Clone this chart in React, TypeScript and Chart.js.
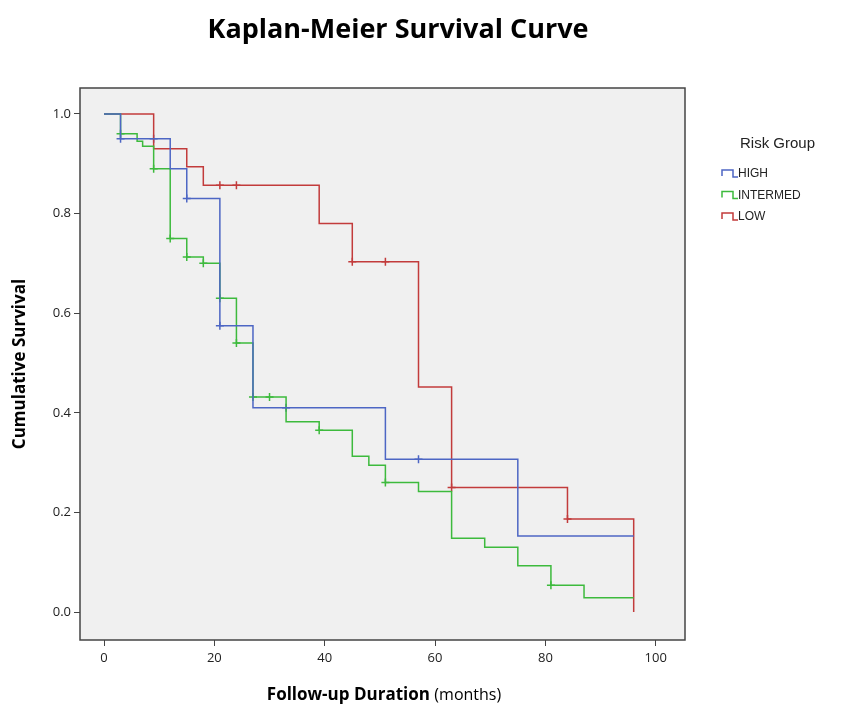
import { useEffect, useRef } from "react"
import { Chart, registerables } from "chart.js"

Chart.register(...registerables)

// Kaplan-Meier steps: time (months) and survival after the event
const highTimes = [0, 3, 12, 15, 21, 27, 51, 75, 96]
const highSurv = [1.0, 0.95, 0.89, 0.83, 0.575, 0.41, 0.307, 0.153, 0.153]
const highCensor = [3, 9, 15, 21, 33, 57]

const intermedTimes = [0, 3, 6, 7, 9, 12, 15, 18, 21, 24, 27, 33, 39, 45, 48, 51, 57, 63, 69, 75, 81, 87, 96]
const intermedSurv = [1.0, 0.96, 0.945, 0.935, 0.89, 0.75, 0.713, 0.7, 0.63, 0.54, 0.432, 0.382, 0.365, 0.313, 0.295, 0.26, 0.242, 0.148, 0.13, 0.093, 0.054, 0.029, 0.029]
const intermedCensor = [3, 9, 12, 15, 18, 21, 24, 27, 30, 39, 51, 81]

const lowTimes = [0, 9, 15, 18, 39, 45, 57, 63, 84, 96, 96]
const lowSurv = [1.0, 0.93, 0.894, 0.857, 0.78, 0.703, 0.452, 0.25, 0.187, 0.187, 0.0]
const lowCensor = [21, 24, 45, 51, 63, 84]

const xTicks = [0, 20, 40, 60, 80, 100]
const yTicks = [0, 0.2, 0.4, 0.6, 0.8, 1.0]

const groups = [
  { label: "HIGH", color: "#4d66c4", times: highTimes, surv: highSurv, censor: highCensor },
  { label: "INTERMED", color: "#3dba3d", times: intermedTimes, surv: intermedSurv, censor: intermedCensor },
  { label: "LOW", color: "#c23b3b", times: lowTimes, surv: lowSurv, censor: lowCensor },
]

function survAt(times: number[], surv: number[], t: number) {
  let s = surv[0]
  for (let i = 0; i < times.length; i++) {
    if (times[i] <= t) s = surv[i]
  }
  return s
}

const FONT = "'Open Sans', Arial, sans-serif"

export default function App() {
  const chartRef = useRef<HTMLCanvasElement>(null)
  const chartInstance = useRef<Chart | null>(null)

  useEffect(() => {
    if (!chartRef.current) return
    const ctx = chartRef.current.getContext("2d")
    if (!ctx) return
    if (chartInstance.current) chartInstance.current.destroy()

    const datasets: any[] = []
    groups.forEach((g) => {
      datasets.push({
        label: g.label,
        data: g.times.map((t, i) => ({ x: t, y: g.surv[i] })),
        borderColor: g.color,
        borderWidth: 1.5,
        stepped: "before",
        pointRadius: 0,
        showLine: true,
      })
    })
    groups.forEach((g) => {
      datasets.push({
        label: g.label + " censored",
        data: g.censor.map((t) => ({ x: t, y: survAt(g.times, g.surv, t) })),
        borderColor: g.color,
        pointStyle: "cross",
        pointRadius: 4,
        pointBorderWidth: 1.5,
        showLine: false,
      })
    })

    const decor = {
      id: "decor",
      beforeDraw(chart: any) {
        const { ctx, chartArea: a } = chart
        ctx.save()
        ctx.fillStyle = "#f0f0f0"
        ctx.fillRect(a.left, a.top, a.right - a.left, a.bottom - a.top)
        ctx.restore()
      },
      afterDraw(chart: any) {
        const { ctx, chartArea: a } = chart
        ctx.save()
        ctx.strokeStyle = "#444"
        ctx.lineWidth = 1.5
        ctx.strokeRect(a.left, a.top, a.right - a.left, a.bottom - a.top)
        // title
        ctx.fillStyle = "#000"
        ctx.textAlign = "center"
        ctx.textBaseline = "middle"
        ctx.font = `bold 27px ${FONT}`
        ctx.fillText("Kaplan-Meier Survival Curve", 398, 30)
        // x title
        const p1 = "Follow-up Duration "
        ctx.font = `bold 17px ${FONT}`
        const w1 = ctx.measureText(p1).width
        ctx.font = `16px ${FONT}`
        const w2 = ctx.measureText("(months)").width
        const sx = 384 - (w1 + w2) / 2
        ctx.textAlign = "left"
        ctx.font = `bold 17px ${FONT}`
        ctx.fillText(p1, sx, 695)
        ctx.font = `16px ${FONT}`
        ctx.fillText("(months)", sx + w1, 695)
        // legend
        ctx.font = `15px Arial, sans-serif`
        ctx.fillStyle = "#222"
        ctx.fillText("Risk Group", 740, 144)
        ctx.font = `12px Arial, sans-serif`
        groups.forEach((g, i) => {
          const y = 174 + i * 21.5
          ctx.strokeStyle = g.color
          ctx.lineWidth = 1.5
          ctx.beginPath()
          ctx.moveTo(722, y + 2)
          ctx.lineTo(722, y - 4)
          ctx.lineTo(733, y - 4)
          ctx.lineTo(733, y + 3)
          ctx.lineTo(738, y + 3)
          ctx.stroke()
          ctx.fillStyle = "#222"
          ctx.fillText(g.label, 738, y)
        })
        ctx.restore()
      },
    }

    chartInstance.current = new Chart(ctx, {
      type: "scatter",
      data: { datasets },
      plugins: [decor],
      options: {
        animation: false,
        responsive: true,
        maintainAspectRatio: false,
        layout: { padding: { top: 88, right: 163, left: 0, bottom: 0 } },
        plugins: { legend: { display: false }, tooltip: { enabled: false } },
        scales: {
          x: {
            type: "linear",
            min: -4.35,
            max: 105.3,
            afterBuildTicks: (axis: any) => {
              axis.ticks = xTicks.map((v) => ({ value: v }))
            },
            afterFit: (axis: any) => {
              axis.height = 67
            },
            grid: { drawOnChartArea: false, tickLength: 6, color: "#444" },
            border: { display: false },
            ticks: { color: "#222", font: { family: FONT, size: 13 }, padding: 4 },
          },
          y: {
            min: -0.056,
            max: 1.052,
            afterBuildTicks: (axis: any) => {
              axis.ticks = yTicks.map((v) => ({ value: v }))
            },
            afterFit: (axis: any) => {
              axis.width = 80
            },
            grid: { drawOnChartArea: false, tickLength: 6, color: "#444" },
            border: { display: false },
            title: {
              display: true,
              text: "Cumulative Survival",
              color: "#000",
              font: { family: FONT, size: 17, weight: "bold" },
              padding: { top: 10, bottom: 0 },
            },
            ticks: {
              color: "#222",
              font: { family: FONT, size: 13 },
              callback: (v: any) => Number(v).toFixed(1),
            },
          },
        },
      },
    })

    return () => {
      if (chartInstance.current) chartInstance.current.destroy()
    }
  }, [])

  return (
    <div style={{ position: "fixed", left: 0, top: 0, width: 848, height: 707, background: "#fff" }}>
      <canvas ref={chartRef} />
    </div>
  )
}
